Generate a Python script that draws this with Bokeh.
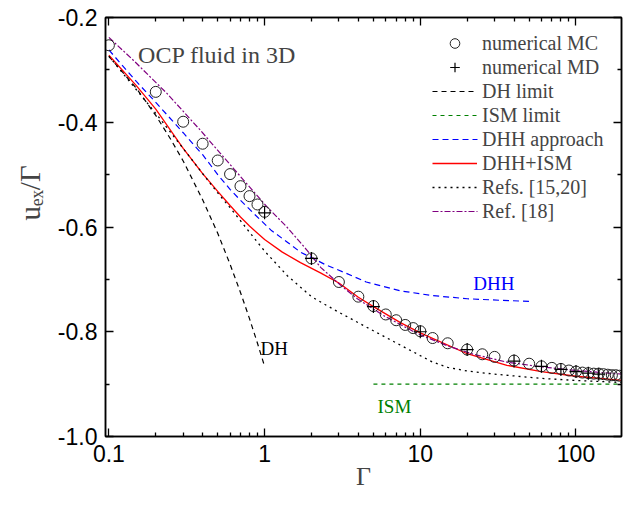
from math import log10
from bokeh.plotting import figure
from bokeh.models import (LogAxis, LinearAxis, FixedTicker, Range1d, Label, Title,
                          Legend, LegendItem, BasicTickFormatter)
from bokeh.embed import file_html
from bokeh.resources import INLINE

# ---- data ----
mc_gamma = [0.1, 0.2, 0.3, 0.4, 0.5, 0.6, 0.7, 0.8, 0.9, 1, 2, 3, 4, 5, 6, 7, 8, 9, 10,
            12, 15, 20, 25, 30, 40, 50, 60, 70, 80, 90, 100, 110, 120, 130, 140, 150,
            160, 170, 180, 190]
mc_u = [-0.253, -0.342, -0.399, -0.441, -0.473, -0.499, -0.522, -0.541, -0.557, -0.571,
        -0.660, -0.705, -0.733, -0.751, -0.767, -0.778, -0.787, -0.793, -0.799,
        -0.812, -0.822, -0.834, -0.843, -0.848, -0.855, -0.861, -0.866, -0.869, -0.871,
        -0.874, -0.876, -0.878, -0.879, -0.880, -0.880, -0.881, -0.882, -0.883, -0.883,
        -0.884]

md_gamma = [1, 2, 5, 10, 20, 40, 60, 80, 100, 120, 140]
md_u = [-0.573, -0.660, -0.752, -0.800, -0.834, -0.856, -0.866, -0.872, -0.876, -0.879, -0.881]

dh_gamma = [0.1, 0.15, 0.2, 0.25, 0.3, 0.4, 0.5, 0.6, 0.7, 0.8, 0.9, 1.0]
dh_u = [-0.274, -0.335, -0.387, -0.433, -0.474, -0.548, -0.612, -0.671, -0.725, -0.775,
        -0.822, -0.866]

ism_gamma = [5, 200]
ism_u = [-0.900, -0.900]

dhh_gamma = [0.1, 0.15, 0.2, 0.3, 0.4, 0.5, 0.6, 0.7, 0.85, 1.1, 1.4, 1.7, 2.05, 2.5, 3.2,
             4.5, 7.5, 12, 20, 33, 50]
dhh_u = [-0.262, -0.322, -0.362, -0.420, -0.462, -0.500, -0.528, -0.549, -0.574, -0.606,
         -0.629, -0.648, -0.660, -0.673, -0.686, -0.705, -0.722, -0.731, -0.737, -0.740,
         -0.742]

dhhism_gamma = [0.1, 0.15, 0.2, 0.3, 0.4, 0.5, 0.6, 0.7, 0.8, 1.0, 1.3, 1.7, 2.3, 3, 4, 5,
                7.5, 10, 20, 36, 60, 100, 200]
dhhism_u = [-0.272, -0.330, -0.375, -0.450, -0.498, -0.532, -0.559, -0.581, -0.598, -0.624,
            -0.648, -0.668, -0.688, -0.707, -0.734, -0.752, -0.783, -0.802, -0.842,
            -0.864, -0.876, -0.885, -0.893]

refs1520_gamma = [0.1, 0.2, 0.3, 0.4, 0.5, 0.6, 0.7, 0.8, 1.0, 1.4, 2.0, 2.8, 4.5, 7.5, 12,
                  15, 20, 30, 60, 100, 200]
refs1520_u = [-0.274, -0.383, -0.450, -0.498, -0.535, -0.563, -0.588, -0.610, -0.646,
              -0.693, -0.733, -0.758, -0.791, -0.826, -0.858, -0.868, -0.875, -0.881,
              -0.889, -0.893, -0.897]

ref18_gamma = [0.1, 0.144, 0.236, 0.386, 0.63, 1.04, 1.39, 1.88, 2.29, 3.07, 3.94, 5.8,
               9.5, 15, 22, 36, 60, 100, 200]
ref18_u = [-0.238, -0.282, -0.345, -0.415, -0.488, -0.562, -0.600, -0.645, -0.677, -0.711,
           -0.737, -0.769, -0.803, -0.827, -0.843, -0.858, -0.867, -0.874, -0.881]

x_major = [0.1, 1, 10, 100]
x_minor = [0.2, 0.3, 0.4, 0.5, 0.6, 0.7, 0.8, 0.9, 2, 3, 4, 5, 6, 7, 8, 9,
           20, 30, 40, 50, 60, 70, 80, 90]
x_labels = {0.1: "0.1", 1: "1", 10: "10", 100: "100"}
y_major = [-1.0, -0.8, -0.6, -0.4, -0.2]
y_minor = [-0.9, -0.7, -0.5, -0.3]
y_labels = {-1.0: "-1.0", -0.8: "-0.8", -0.6: "-0.6", -0.4: "-0.4", -0.2: "-0.2"}

SERIF = "Liberation Serif"
SANS = "Liberation Sans"

# ---- layout (pixels) ----
X0, X1 = 0.0951, 196.0
Y0, Y1 = -1.0, -0.2
FL, FT, FW, FH = 105, 17, 516, 419   # frame left/top/width/height on the page


def px_x(px):
    """page pixel x -> data x on the log axis (for placing decorations)"""
    return 10 ** (log10(X0) + (px - FL) / FW * (log10(X1) - log10(X0)))


def px_y(py):
    return Y1 - (py - FT) / FH * (Y1 - Y0)


p = figure(frame_width=FW, frame_height=FH, x_axis_type="log",
           x_range=Range1d(X0, X1), y_range=Range1d(Y0, Y1),
           output_backend="svg", toolbar_location=None,
           min_border_left=FL, min_border_right=9, min_border_top=FT, min_border_bottom=70)
p.grid.visible = False
p.outline_line_color = "black"
p.outline_line_width = 1.5
p.background_fill_color = "white"
p.border_fill_color = "white"


def style_axis(ax, show_labels=True):
    ax.axis_line_color = "black"
    ax.axis_line_width = 1.5
    ax.major_tick_in = 8
    ax.major_tick_out = 0
    ax.minor_tick_in = 4
    ax.minor_tick_out = 0
    ax.major_tick_line_width = 1.3
    ax.minor_tick_line_width = 1.3
    ax.major_tick_line_color = "black"
    ax.minor_tick_line_color = "black"
    if show_labels:
        ax.major_label_text_font = SANS
        ax.major_label_text_font_size = "23px"
        ax.major_label_text_color = "black"
        ax.major_label_standoff = 8
    else:
        ax.major_label_text_font_size = "1px"
        ax.major_label_text_alpha = 0
        ax.major_label_standoff = 0


xa = p.xaxis[0]
xa.ticker = FixedTicker(ticks=x_major, minor_ticks=x_minor)
xa.major_label_overrides = x_labels
style_axis(xa)
xa.axis_label = "Γ"
xa.axis_label_text_font = SERIF
xa.axis_label_text_font_size = "26px"
xa.axis_label_text_font_style = "normal"
xa.axis_label_standoff = -3

ya = p.yaxis[0]
ya.ticker = FixedTicker(ticks=y_major, minor_ticks=y_minor)
ya.formatter = BasicTickFormatter(precision=1)
ya.major_label_overrides = y_labels
style_axis(ya)

top = LogAxis(ticker=FixedTicker(ticks=x_major, minor_ticks=x_minor))
style_axis(top, show_labels=False)
p.add_layout(top, "above")
right = LinearAxis(ticker=FixedTicker(ticks=y_major, minor_ticks=y_minor))
style_axis(right, show_labels=False)
p.add_layout(right, "right")

# ---- y axis title: u_ex / Γ, in a side panel left of the axis ----
ytitle = Title(text="uₑₓ/Γ", text_font=SERIF, text_font_size="29px",
               text_font_style="normal", align="left", offset=216, standoff=18)
p.add_layout(ytitle, "left")

# ---- curves ----
styles = {
    "dh": dict(line_color="black", line_dash="5 4", line_width=1.2),
    "ism": dict(line_color="#008000", line_dash="4 4", line_width=1.2),
    "dhh": dict(line_color="#0000ff", line_dash="6 4", line_width=1.2),
    "red": dict(line_color="#ff0000", line_width=1.3),
    "dot": dict(line_color="black", line_dash="2 4", line_width=1.3),
    "pur": dict(line_color="#800080", line_dash="6 2 2 2", line_width=1.2),
}
r_dh = p.line(dh_gamma, dh_u, **styles["dh"])
r_ism = p.line(ism_gamma, ism_u, **styles["ism"])
r_dhh = p.line(dhh_gamma, dhh_u, **styles["dhh"])
r_red = p.line(dhhism_gamma, dhhism_u, **styles["red"])
r_dot = p.line(refs1520_gamma, refs1520_u, **styles["dot"])
r_pur = p.line(ref18_gamma, ref18_u, **styles["pur"])

r_mc = p.scatter(mc_gamma, mc_u, marker="circle", size=11, fill_color=None,
                 line_color="#222222", line_width=1)
r_md = p.scatter(md_gamma, md_u, marker="cross", size=13, line_color="black", line_width=1.2)

LEG_X, LEG_BOTTOM, ROW, KEY_W = 327, 213, 24, 45
labels = ["numerical MC", "numerical MD", "DH limit", "ISM limit", "DHH approach",
          "DHH+ISM", "Refs. [15,20]", "Ref. [18]"]

# dashed legend keys: each dash drawn as a short solid segment
leg_top = FT + FH - (LEG_BOTTOM + ROW * len(labels))
for i, key in [(2, "dh"), (3, "ism"), (4, "dhh"), (6, "dot"), (7, "pur")]:
    st = styles[key]
    pattern = [int(v) for v in st["line_dash"].split()]
    x0s, x1s = [], []
    pos, k = 0, 0
    while pos < KEY_W:
        seg = pattern[k % len(pattern)]
        if k % 2 == 0:
            x0s.append(px_x(FL + LEG_X + pos))
            x1s.append(px_x(FL + LEG_X + min(pos + seg, KEY_W)))
        pos += seg
        k += 1
    yc = px_y(leg_top + ROW * i + ROW / 2)
    p.segment(x0=x0s, y0=[yc] * len(x0s), x1=x1s, y1=[yc] * len(x0s),
              line_color=st["line_color"], line_width=st["line_width"])

# invisible solid proxies for the legend entries of the dashed curves
proxy = {k: p.line([], [], line_alpha=0) for k in ["dh", "ism", "dhh", "dot", "pur"]}

rends = [r_mc, r_md, proxy["dh"], proxy["ism"], proxy["dhh"], r_red, proxy["dot"],
         proxy["pur"]]
legend = Legend(items=[LegendItem(label=l, renderers=[r]) for l, r in zip(labels, rends)],
                location=(LEG_X, LEG_BOTTOM))
legend.label_text_font = SERIF
legend.label_text_font_size = "20px"
legend.glyph_width = KEY_W
legend.glyph_height = ROW
legend.label_height = ROW
legend.label_standoff = 5
legend.spacing = 0
legend.padding = 0
legend.margin = 0
legend.border_line_color = None
legend.background_fill_alpha = 0
p.add_layout(legend, "center")

# ---- in-plot annotations ----
p.add_layout(Label(x=0.154, y=-0.272, text="OCP fluid in 3D", text_font=SERIF,
                   text_font_size="24px", text_baseline="alphabetic"))
p.add_layout(Label(x=21.9, y=-0.708, text="DHH", text_font=SERIF, text_font_size="19px",
                   text_color="#0000ff", text_baseline="alphabetic"))
p.add_layout(Label(x=5.31, y=-0.942, text="ISM", text_font=SERIF, text_font_size="19px",
                   text_color="#008000", text_baseline="alphabetic"))
p.add_layout(Label(x=0.94, y=-0.832, text="DH", text_font=SERIF, text_font_size="19px",
                   text_color="black", text_baseline="alphabetic"))

open("out.html", "w").write(file_html(p, INLINE))
